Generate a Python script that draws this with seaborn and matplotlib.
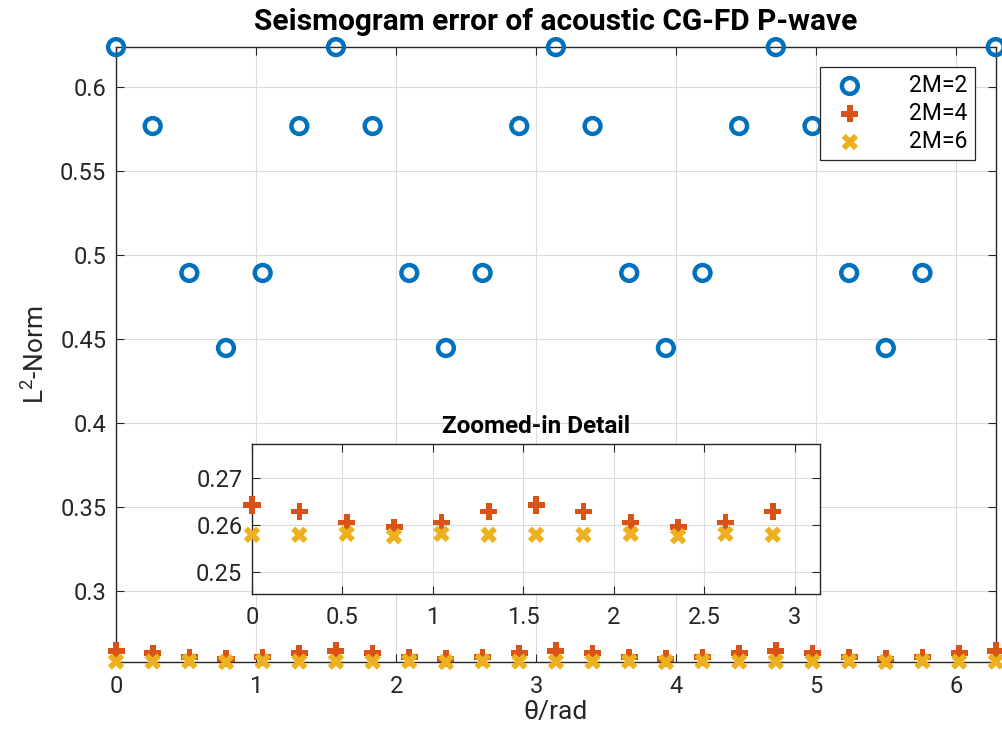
import numpy as np
import pandas as pd
import matplotlib
matplotlib.use("Agg")
import matplotlib.pyplot as plt
import seaborn as sns

# ---- data ----
theta = np.arange(25) * np.pi / 12  # sampling angles, 0 .. 2*pi
err_2M2 = [0.6238, 0.5768, 0.4893, 0.4446, 0.4893, 0.5768,
           0.6238, 0.5768, 0.4893, 0.4446, 0.4893, 0.5768,
           0.6238, 0.5768, 0.4893, 0.4446, 0.4893, 0.5768,
           0.6238, 0.5768, 0.4893, 0.4446, 0.4893, 0.5768,
           0.6238]
err_2M4 = [0.2642, 0.2628, 0.2605, 0.2595, 0.2605, 0.2628,
           0.2642, 0.2628, 0.2605, 0.2595, 0.2605, 0.2628,
           0.2642, 0.2628, 0.2605, 0.2595, 0.2605, 0.2628,
           0.2642, 0.2628, 0.2605, 0.2595, 0.2605, 0.2628,
           0.2642]
err_2M6 = [0.2579, 0.2579, 0.2581, 0.2576, 0.2581, 0.2579,
           0.2579, 0.2579, 0.2581, 0.2576, 0.2581, 0.2579,
           0.2579, 0.2579, 0.2581, 0.2576, 0.2581, 0.2579,
           0.2579, 0.2579, 0.2581, 0.2576, 0.2581, 0.2579,
           0.2579]
labels = ["2M=2", "2M=4", "2M=6"]
colors = ["#0072BD", "#D95319", "#EDB120"]

main_xticks = [0, 1, 2, 3, 4, 5, 6]
main_yticks = [0.3, 0.35, 0.4, 0.45, 0.5, 0.55, 0.6]
inset_xticks = [0, 0.5, 1, 1.5, 2, 2.5, 3]
inset_yticks = [0.25, 0.26, 0.27]
inset_ylim = (0.2454, 0.2771)

sns.set_theme(style="white")
plt.rcParams["font.family"] = ["Roboto", "DejaVu Sans"]
plt.rcParams["mathtext.fontset"] = "custom"
plt.rcParams["mathtext.rm"] = "Roboto"
plt.rcParams["mathtext.it"] = "Roboto"

TICK_FS = 17

fig = plt.figure(figsize=(10.02, 7.36), dpi=100)
ax = fig.add_axes([0.1158, 0.1005, 0.878, 0.8355])

df = pd.DataFrame({"theta": theta, "2M=2": err_2M2, "2M=4": err_2M4, "2M=6": err_2M6})


def style_axes(axis, fs):
    for sp in axis.spines.values():
        sp.set_color("#262626")
        sp.set_linewidth(1.0)
    axis.tick_params(direction="in", length=6, width=0.8, colors="#262626",
                     labelsize=fs, top=True, right=True, bottom=True, left=True,
                     labelcolor="#262626")
    axis.tick_params(axis="x", pad=9)
    axis.tick_params(axis="y", pad=7)
    axis.grid(True, color="#dcdcdc", linewidth=0.8)
    axis.set_axisbelow(True)


sns.scatterplot(data=df, x="theta", y="2M=2", ax=ax, marker="o",
                s=130, facecolor="none", edgecolor=colors[0],
                linewidth=3.2, label=labels[0], zorder=3, clip_on=False)
sns.scatterplot(data=df, x="theta", y="2M=4", ax=ax, marker="P",
                s=150, color=colors[1], edgecolor="none",
                label=labels[1], zorder=3, clip_on=False)
sns.scatterplot(data=df, x="theta", y="2M=6", ax=ax, marker="X",
                s=140, color=colors[2], edgecolor="none",
                label=labels[2], zorder=3, clip_on=False)

ymin = min(min(err_2M2), min(err_2M4), min(err_2M6))
ymax = max(max(err_2M2), max(err_2M4), max(err_2M6))
ax.set_xlim(0, 2 * np.pi)
ax.set_ylim(ymin, ymax)
ax.set_xticks(main_xticks)
ax.set_yticks(main_yticks)
ax.set_yticklabels([f"{v:g}" for v in main_yticks])
style_axes(ax, TICK_FS)
ax.set_xlabel("θ/rad", fontsize=19, color="#262626", labelpad=2)
ax.set_ylabel("L$^{2}$-Norm", fontsize=19, color="#262626", labelpad=8)
ax.set_title("Seismogram error of acoustic CG-FD P-wave", fontsize=21.5,
             fontweight="bold", color="black", pad=12)
leg = ax.legend(loc="upper right", bbox_to_anchor=(0.976, 0.9675), fontsize=16.5,
                frameon=True, fancybox=False, framealpha=1, edgecolor="#262626",
                handletextpad=1.6, borderpad=0.3, labelspacing=0.22, markerfirst=True,
                borderaxespad=0)
leg.get_frame().set_linewidth(0.9)
for t in leg.get_texts():
    t.set_color("black")

# ---- inset ----
axin = fig.add_axes([0.2515, 0.193, 0.567, 0.2038])
axin.set_facecolor("white")
sub = df[df["theta"] <= np.pi - 1e-9]
sns.scatterplot(data=sub, x="theta", y="2M=4", ax=axin, marker="P", s=150,
                color=colors[1], edgecolor="none", zorder=3, clip_on=False)
sns.scatterplot(data=sub, x="theta", y="2M=6", ax=axin, marker="X", s=140,
                color=colors[2], edgecolor="none", zorder=3, clip_on=False)
axin.set_xlim(0, np.pi)
axin.set_ylim(*inset_ylim)
axin.set_xticks(inset_xticks)
axin.set_xticklabels([f"{v:g}" for v in inset_xticks])
axin.set_yticks(inset_yticks)
axin.set_yticklabels([f"{v:g}" for v in inset_yticks])
style_axes(axin, TICK_FS)
axin.set_xlabel("")
axin.set_ylabel("")
axin.set_title("Zoomed-in Detail", fontsize=17.5, fontweight="bold", color="black", pad=8)

fig.savefig("out.png", dpi=100)
